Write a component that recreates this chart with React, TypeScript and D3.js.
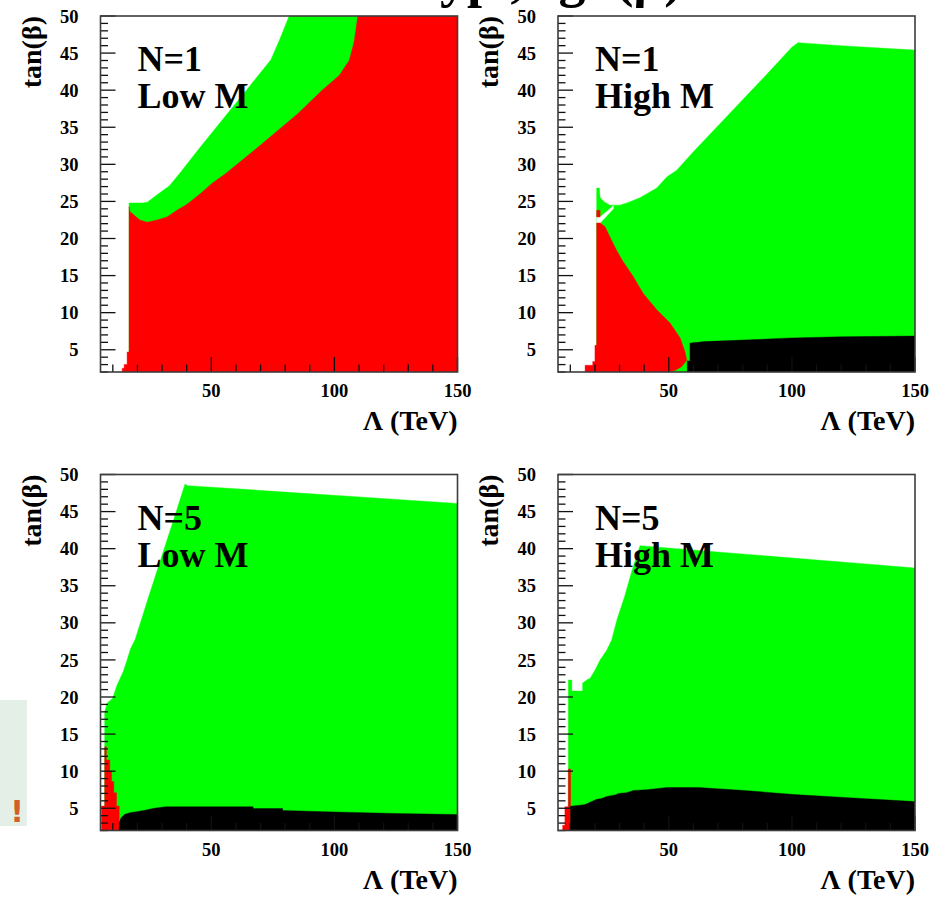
import React from "react";
import * as d3 from "d3";

type Pt = [number, number];

// ---------- axes / labels ----------
const LAMBDA_RANGE: [number, number] = [5, 150];
const TANB_RANGE: [number, number] = [2, 50];
const xMajorTicks = [50, 100, 150];
const xMinorTicks = [10, 20, 30, 40, 60, 70, 80, 90, 110, 120, 130, 140];
const yMajorTicks = [5, 10, 15, 20, 25, 30, 35, 40, 45, 50];
const panelN = ["N=1", "N=1", "N=5", "N=5"];
const panelM = ["Low M", "High M", "Low M", "High M"];
const xTitle = "Λ (TeV)";
const yTitle = "tan(β)";
const title = "Typ., sgn(μ)";

// ---------- N=1, Low M ----------
const p1Green: Pt[] = [
  [16.6, 2], [16.6, 24.8], [22, 24.8], [24, 24.9], [28, 25.9], [33, 27.1], [37.2, 28.8],
  [45, 32.1], [55, 36.2], [65, 40.3], [74.2, 44.1], [78, 47], [81.6, 50], [150, 50], [150, 2],
];
const p1Red: Pt[] = [
  [13.8, 2], [13.8, 2.5], [14.6, 2.5], [14.6, 3.0], [15.8, 3.0], [15.8, 4.7], [16.6, 4.7],
  [16.6, 24.3], [17, 23.6], [21, 22.5], [24, 22.2], [28, 22.5], [32, 22.9], [36, 23.8],
  [40, 24.6], [45, 25.9], [50.5, 27.5], [56, 28.8], [70, 32.6], [85, 36.8], [95, 40],
  [102, 42], [106, 44], [108, 46.5], [109.5, 50], [150, 50], [150, 2],
];

// ---------- N=1, High M ----------
const p2Green: Pt[] = [
  [20.7, 2], [20.7, 26.8], [21.8, 26.8], [22.1, 25.5], [24, 24.9], [26.1, 24.5], [30, 24.5],
  [33, 24.8], [38.3, 25.5], [45.1, 26.8], [49.2, 28.3], [53.2, 29.2], [60, 31.7], [70, 35.2],
  [80, 38.7], [90, 42.2], [100, 45.8], [102.5, 46.4], [120, 46], [150, 45.4], [150, 2],
];
const p2Gap: Pt[] = [
  [20.7, 22.1], [22.1, 22.1], [27.5, 24.0], [27.5, 24.4], [22.5, 23.0], [20.7, 22.9],
];
const p2RedChip: Pt[] = [[20.7, 22.9], [22.1, 22.9], [22.1, 23.8], [20.7, 23.8]];
const p2Red: Pt[] = [
  [16, 2], [16, 2.9], [19.1, 2.9], [19.1, 3.4], [20, 3.4], [20, 5.6], [20.7, 5.6],
  [20.7, 22.1], [22.1, 22.1], [24.1, 21.6], [26.1, 20.2], [28.8, 18.4], [31.4, 16.9],
  [35.5, 14.9], [39.6, 12.6], [45.1, 10.4], [50.5, 8.6], [54.6, 6.6], [56.6, 4.7],
  [57.3, 3.6], [55.2, 2.7], [52.5, 2.2], [50, 2],
];
const p2Black: Pt[] = [
  [57.5, 2], [57.5, 3.5], [58.6, 3.5], [58.6, 5.9], [64.7, 6.1], [80, 6.3], [100, 6.6],
  [120, 6.75], [150, 6.85], [150, 2],
];

// ---------- N=5, Low M ----------
const p3Green: Pt[] = [
  [6.7, 2], [6.7, 18.0], [7.7, 19.2], [9.9, 19.8], [11.7, 21.6], [14.2, 23.4], [15.6, 24.8],
  [17.2, 26.5], [19, 27.7], [25, 34], [30, 39.1], [35, 44.2], [39.3, 48.7], [40.5, 48.5],
  [150, 46.1], [150, 2],
];
const p3Red: Pt[] = [
  [5.4, 2], [5.4, 5.3], [6.7, 5.3], [6.7, 13.3], [7.4, 13.3], [7.4, 11.5], [8.8, 11.5],
  [8.8, 10.0], [9.5, 10.0], [9.5, 8.6], [10.4, 8.6], [10.4, 7.1], [11.5, 7.1], [11.5, 5.3],
  [12.6, 5.3], [12.6, 2],
];
const p3Black: Pt[] = [
  [12.6, 2], [12.6, 3.0], [13.3, 3.7], [14.7, 4.15], [16.9, 4.4], [20.7, 4.6], [22.6, 4.7],
  [26.7, 5.0], [31.5, 5.2], [67, 5.2], [67, 4.95], [79, 4.95], [79, 4.7], [100, 4.5],
  [125, 4.3], [150, 4.15], [150, 2],
];

// ---------- N=5, High M ----------
const p4Green: Pt[] = [
  [9.2, 2], [9.2, 22.3], [10.6, 22.3], [10.6, 20.8], [15, 20.8], [15, 21.9], [17.2, 22.4],
  [18, 22.5], [20, 23.6], [22.1, 25], [24.8, 26.3], [26.8, 27.7], [29, 30.5], [32, 33.5],
  [35, 37], [38.3, 40.4], [150, 37.4], [150, 2],
];
const p4Red: Pt[] = [
  [6.9, 2], [6.9, 2.7], [7.8, 2.7], [7.8, 5.2], [9.2, 5.2], [9.2, 10.3], [10.1, 10.3], [10.1, 2],
];
const p4Black: Pt[] = [
  [10.1, 2], [10.1, 5.27], [13.9, 5.4], [16, 5.5], [18, 5.8], [20.7, 6.2], [22.7, 6.3],
  [24.8, 6.6], [28.2, 6.8], [29.5, 7.0], [32.9, 7.1], [35.6, 7.4], [41, 7.5], [49.2, 7.8],
  [62, 7.8], [80.7, 7.4], [101, 6.85], [121.4, 6.45], [150, 5.9], [150, 2],
];

const GREEN = "#00ff00";
const RED = "#ff0000";
const BLACK = "#000000";
const SERIF = "'Liberation Serif', 'Times New Roman', Times, serif";

type Layer = { pts: Pt[]; color: string };

const W = 930;
const H = 897;
const FW = 357;
const FH = 356;

const panelPos = [
  { left: 100.5, top: 16 },
  { left: 558, top: 16 },
  { left: 100.5, top: 474.5 },
  { left: 558, top: 474.5 },
];

const panelLayers: Layer[][] = [
  [{ pts: p1Green, color: GREEN }, { pts: p1Red, color: RED }],
  [
    { pts: p2Green, color: GREEN },
    { pts: p2Gap, color: "#ffffff" },
    { pts: p2RedChip, color: RED },
    { pts: p2Red, color: RED },
    { pts: p2Black, color: BLACK },
  ],
  [{ pts: p3Green, color: GREEN }, { pts: p3Red, color: RED }, { pts: p3Black, color: BLACK }],
  [{ pts: p4Green, color: GREEN }, { pts: p4Red, color: RED }, { pts: p4Black, color: BLACK }],
];

function Panel({ idx }: { idx: number }) {
  const { left, top } = panelPos[idx];
  const x = d3.scaleLinear().domain(LAMBDA_RANGE).range([left, left + FW]);
  const y = d3.scaleLinear().domain(TANB_RANGE).range([top + FH, top]);
  const line = d3
    .line<Pt>()
    .x((d) => x(d[0]))
    .y((d) => y(d[1]));
  const clipId = `clip-${idx}`;
  const yMinor = d3.range(TANB_RANGE[0], TANB_RANGE[1] + 1, 1).filter((v) => v % 5 !== 0);
  const bottom = top + FH;
  return (
    <g>
      <defs>
        <clipPath id={clipId}>
          <rect x={left} y={top} width={FW} height={FH} />
        </clipPath>
      </defs>
      <rect x={left} y={top} width={FW} height={FH} fill="#ffffff" />
      <g clipPath={`url(#${clipId})`}>
        {panelLayers[idx].map((l, i) => (
          <path key={i} d={(line(l.pts) || "") + "Z"} fill={l.color} stroke={l.color} strokeWidth={0.4} />
        ))}
      </g>
      {/* ticks */}
      <g stroke="#111" strokeWidth={1.3}>
        {yMajorTicks.map((t) => (
          <line key={"ym" + t} x1={left} x2={left + 15} y1={y(t)} y2={y(t)} />
        ))}
        {yMinor.map((t) => (
          <line key={"yn" + t} x1={left} x2={left + 7.5} y1={y(t)} y2={y(t)} />
        ))}
        {xMajorTicks.map((t) => (
          <line key={"xm" + t} x1={x(t)} x2={x(t)} y1={bottom} y2={bottom - 15} />
        ))}
        {xMinorTicks.map((t) => (
          <line key={"xn" + t} x1={x(t)} x2={x(t)} y1={bottom} y2={bottom - 7.5} />
        ))}
      </g>
      <rect x={left} y={top} width={FW} height={FH} fill="none" stroke="#3c3c3c" strokeWidth={1.6} />
      {/* tick labels */}
      <g fontFamily={SERIF} fontWeight="bold" fontSize={18.5} fill="#000">
        {yMajorTicks.map((t) => (
          <text key={"yl" + t} x={left - 22} y={y(t)} dy="0.36em" textAnchor="end">
            {t}
          </text>
        ))}
        {xMajorTicks.map((t) => (
          <text key={"xl" + t} x={x(t)} y={bottom + 25} textAnchor="middle">
            {t}
          </text>
        ))}
      </g>
      {/* axis titles */}
      <text
        x={left + FW}
        y={bottom + 58}
        textAnchor="end"
        fontFamily={SERIF}
        fontWeight="bold"
        fontSize={28}
      >
        {xTitle}
      </text>
      <text
        transform={`translate(${left - 60},${top}) rotate(-90)`}
        textAnchor="end"
        fontFamily={SERIF}
        fontWeight="bold"
        fontSize={28}
      >
        {yTitle}
      </text>
      {/* panel labels */}
      <g fontFamily={SERIF} fontWeight="bold" fontSize={36} fill="#000">
        <text x={left + 37} y={top + 55}>
          {panelN[idx]}
        </text>
        <text x={left + 37} y={top + 92}>
          {panelM[idx]}
        </text>
      </g>
    </g>
  );
}

export default function App() {
  return (
    <div style={{ position: "absolute", left: 0, top: 0 }}>
      <svg width={W} height={H} viewBox={`0 0 ${W} ${H}`} style={{ display: "block", background: "#fff" }}>
        <rect x={0} y={0} width={W} height={H} fill="#ffffff" />
        <text x={408} y={-4} fontFamily={SERIF} fontWeight="bold" fontSize={54} fill="#000">
          {title}
        </text>
        {[0, 1, 2, 3].map((i) => (
          <Panel key={i} idx={i} />
        ))}
        <rect x={0} y={700} width={27} height={126} fill="#e4f0e7" />
        <text
          x={17}
          y={822}
          textAnchor="middle"
          fontFamily="'DejaVu Sans', sans-serif"
          fontWeight="bold"
          fontSize={30}
          fill="#d2602a"
        >
          !
        </text>
      </svg>
    </div>
  );
}
